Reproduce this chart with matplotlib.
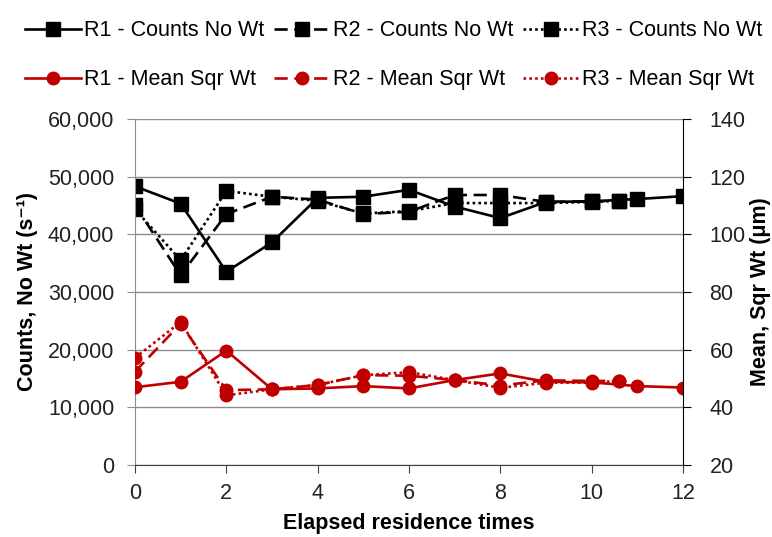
import matplotlib
matplotlib.use("Agg")
import matplotlib.pyplot as plt
from matplotlib.ticker import FuncFormatter, MultipleLocator

plt.rcParams['font.family'] = ['Liberation Sans', 'DejaVu Sans']

# elapsed residence times for each run
t_r1 = [0, 1, 2, 3, 4, 5, 6, 7, 8, 9, 10, 11, 12]
t_r2 = [0, 1, 2, 3, 4, 5, 6, 7, 8, 9, 10, 10.6]
t_r3 = [0, 1, 2, 3, 4, 5, 6, 7, 8, 9, 10, 10.6]

# counts, no weighting (s^-1)
counts_r1 = [48300, 45300, 33500, 38600, 46300, 46500, 47700, 44800, 42800, 45600, 45700, 46100, 46600]
counts_r2 = [45000, 32900, 43500, 46500, 46000, 43500, 43900, 46800, 46800, 45600, 45700, 45800]
counts_r3 = [44300, 35500, 47500, 46500, 45800, 43600, 44000, 45400, 45400, 45400, 45600, 45800]

# mean, square weighted (um)
mean_r1 = [47.0, 48.9, 59.7, 46.3, 46.6, 47.4, 46.6, 49.5, 51.8, 48.9, 48.7, 47.4, 46.9]
mean_r2 = [52.4, 69.0, 46.0, 46.3, 47.8, 51.2, 51.0, 49.5, 47.6, 49.4, 49.2, 49.2]
mean_r3 = [57.2, 69.6, 44.2, 46.3, 47.8, 51.2, 52.2, 49.5, 46.8, 48.6, 48.6, 49.2]

red = '#C00000'
txt = '#222222'
fs = 15.5

fig = plt.figure(figsize=(7.72, 5.37), dpi=100)
ax = fig.add_axes([0.1749, 0.1337, 0.7098, 0.6451])
ax2 = ax.twinx()

sq = dict(marker='s', markersize=9.5, color='black', linewidth=1.9)
ax.plot(t_r1, counts_r1, linestyle='-', label='R1 - Counts No Wt', **sq)
ax.plot(t_r2, counts_r2, linestyle=(0, (5, 2.5)), label='R2 - Counts No Wt', **sq)
ax.plot(t_r3, counts_r3, linestyle=(0, (1, 1.2)), label='R3 - Counts No Wt', **sq)

ci = dict(marker='o', markersize=9, color=red, linewidth=1.9)
ax2.plot(t_r1, mean_r1, linestyle='-', label='R1 - Mean Sqr Wt', **ci)
ax2.plot(t_r2, mean_r2, linestyle=(0, (5, 2.5)), label='R2 - Mean Sqr Wt', **ci)
ax2.plot(t_r3, mean_r3, linestyle=(0, (1, 1.2)), label='R3 - Mean Sqr Wt', **ci)

ax.set_xlim(0, 12)
ax.set_ylim(0, 60000)
ax2.set_ylim(20, 140)
ax.xaxis.set_major_locator(MultipleLocator(2))
ax.yaxis.set_major_locator(MultipleLocator(10000))
ax2.yaxis.set_major_locator(MultipleLocator(20))
ax.yaxis.set_major_formatter(FuncFormatter(lambda v, p: f'{int(v):,}'))

ax.grid(True, axis='y', color='#8c8c8c', linewidth=1.0)
ax.set_axisbelow(True)

for a in (ax, ax2):
    a.spines['top'].set_visible(False)
ax.spines['right'].set_visible(False)
ax.spines['left'].set_color('#8c8c8c')
ax.spines['bottom'].set_color('#404040')
ax2.spines['left'].set_visible(False)
ax2.spines['bottom'].set_visible(False)
ax2.spines['right'].set_color('black')

ax.tick_params(axis='y', direction='out', length=6, color='#8c8c8c', labelsize=fs, labelcolor=txt, pad=9)
ax.tick_params(axis='x', direction='out', length=6, color='#404040', labelsize=fs, labelcolor=txt, pad=7)
ax2.tick_params(axis='y', direction='out', length=6, color='black', labelsize=fs, labelcolor=txt, pad=13)

ax.set_xlabel('Elapsed residence times', fontsize=15.5, fontweight='bold', labelpad=6)
ax.set_ylabel('Counts, No Wt (s⁻¹)', fontsize=15.5, fontweight='bold', labelpad=7)
ax2.set_ylabel('Mean, Sqr Wt (μm)', fontsize=15.5, fontweight='bold', rotation=90, labelpad=3)

h1, l1 = ax.get_legend_handles_labels()
h2, l2 = ax2.get_legend_handles_labels()
handles = [h1[0], h2[0], h1[1], h2[1], h1[2], h2[2]]
labels = [l1[0], l2[0], l1[1], l2[1], l1[2], l2[2]]
fig.legend(handles, labels, ncol=3, loc='upper center', bbox_to_anchor=(0.51, 0.99),
           frameon=False, fontsize=fs, handlelength=2.6, handletextpad=0.15,
           columnspacing=0.45, labelspacing=1.3, borderaxespad=0.3)

fig.savefig('out.png', dpi=100)
